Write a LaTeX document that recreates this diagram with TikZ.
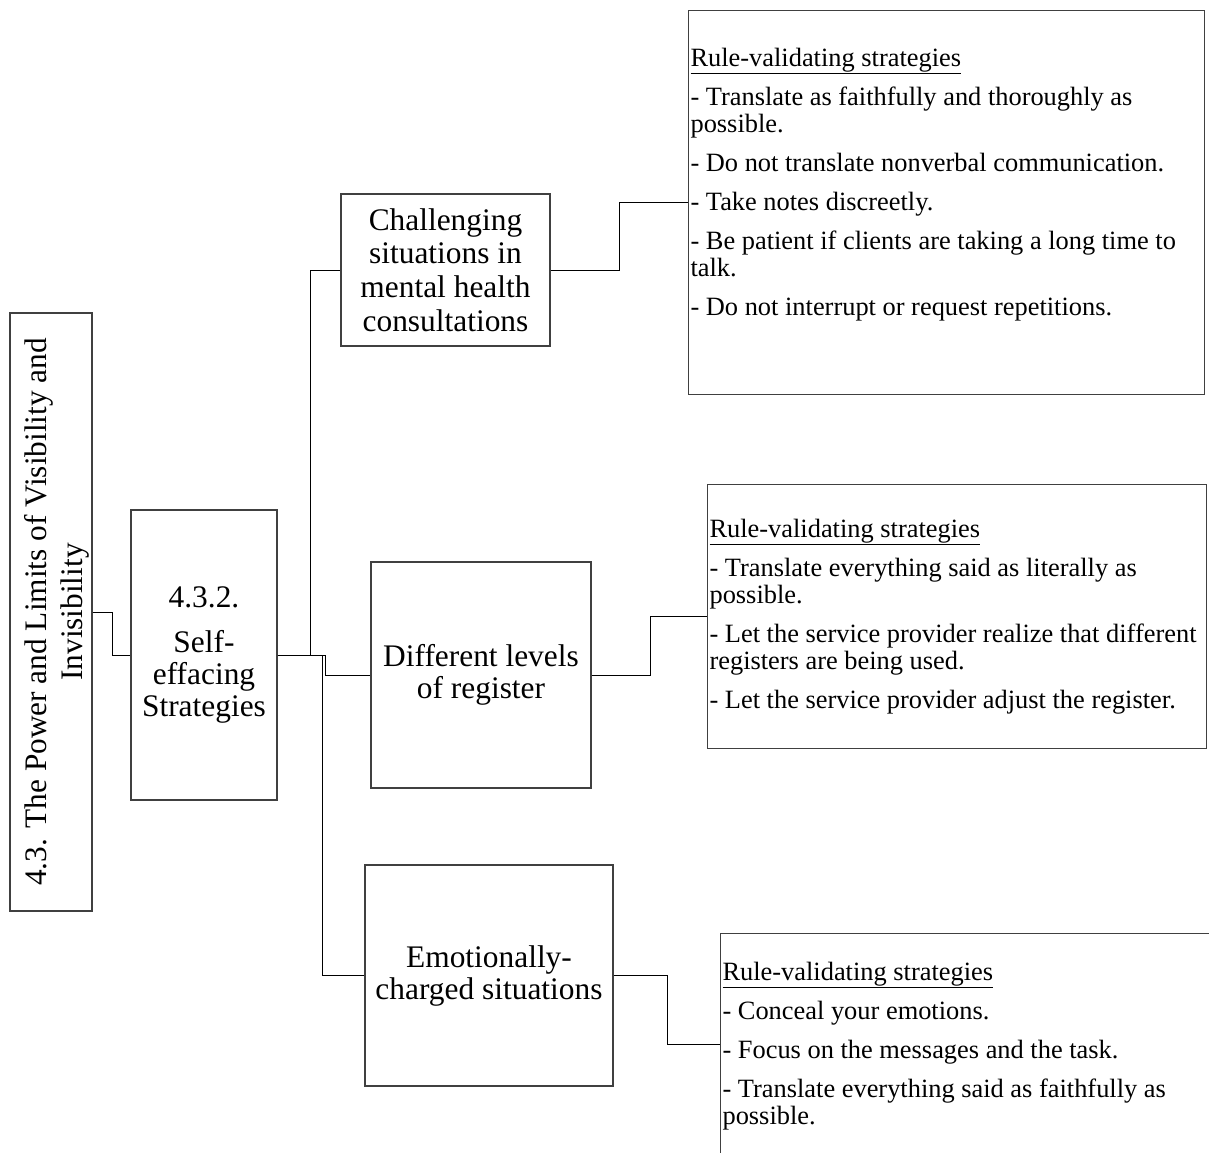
\documentclass[tikz,border=0pt]{standalone}
\usepackage{fontspec}
\setmainfont{Liberation Serif}
\usepackage{graphicx}
\begin{document}
\begin{tikzpicture}[x=1pt,y=-1pt,
  box/.style={draw=black!75, line width=1.1pt, inner sep=0pt, align=center},
  midfont/.style={font={\fontsize{31.4}{33.7}\selectfont}},
  tightfont/.style={font={\fontsize{31.4}{32}\selectfont}},
  link/.style={draw=black, line width=0.9pt},
  listbox/.style={draw=black!75, line width=1.1pt, inner sep=0pt, anchor=north west}]
\useasboundingbox (0,0) rectangle (1209,1152);
\clip (0,0) rectangle (1209,1152);

% top-level chapter box with rotated title
\node[box, minimum width=82, minimum height=598] (A) at (51,612)
  {\hspace*{12pt}\rotatebox{90}{\parbox{590pt}{\centering\fontsize{31.3}{36}\selectfont
   4.3. The Power and Limits of Visibility and\\Invisibility}}};

% section box
\node[box, tightfont, minimum width=146, minimum height=290] (B) at (204,655)
  {4.3.2.\\[13pt]Self-\\effacing\\Strategies};

% situation boxes
\node[box, midfont, minimum width=209, minimum height=152] (C1) at (445.5,270)
  {Challenging\\situations in\\mental health\\consultations};
\node[box, tightfont, minimum width=220, minimum height=226] (C2) at (481,675)
  {Different levels\\of register};
\node[box, tightfont, minimum width=248, minimum height=221] (C3) at (489,975.5)
  {Emotionally-\\charged situations};

% strategy lists
\node[listbox] (D1) at (688,10) {\begin{minipage}[t][384pt][t]{516pt}%
  \fontsize{26.4}{27}\selectfont\raggedright\leftskip=2pt\parindent=0pt\parskip=12pt
  \rule{0pt}{56pt}\underline{Rule-validating strategies}\par
  - Translate as faithfully and thoroughly as\\possible.\par
  - Do not translate nonverbal communication.\par
  - Take notes discreetly.\par
  - Be patient if clients are taking a long time to\\talk.\par
  - Do not interrupt or request repetitions.\par
  \end{minipage}};

\node[listbox] (D2) at (707,484) {\begin{minipage}[t][264pt][t]{499pt}%
  \fontsize{26.4}{27}\selectfont\raggedright\leftskip=2pt\parindent=0pt\parskip=12pt
  \rule{0pt}{53pt}\underline{Rule-validating strategies}\par
  - Translate everything said as literally as\\possible.\par
  - Let the service provider realize that different\\registers are being used.\par
  - Let the service provider adjust the register.\par
  \end{minipage}};

\node[listbox] (D3) at (720,933) {\begin{minipage}[t][222pt][t]{495pt}%
  \fontsize{26.4}{27}\selectfont\raggedright\leftskip=2pt\parindent=0pt\parskip=12pt
  \rule{0pt}{47pt}\underline{Rule-validating strategies}\par
  - Conceal your emotions.\par
  - Focus on the messages and the task.\par
  - Translate everything said as faithfully as\\possible.\par
  \end{minipage}};

% elbow connectors
\draw[link] (A.east) -- ++(20,0) |- (B.west);
\draw[link] (B.east) -- ++(33,0) |- (C1.west);
\draw[link] (B.east) -- ++(48,0) |- (C2.west);
\draw[link] (B.east) -- ++(45,0) |- (C3.west);
\draw[link] (C1.east) -- ++(69,0) |- (D1.west);
\draw[link] (C2.east) -- ++(59,0) |- (D2.west);
\draw[link] (C3.east) -- ++(54,0) |- (D3.west);
\end{tikzpicture}
\end{document}
